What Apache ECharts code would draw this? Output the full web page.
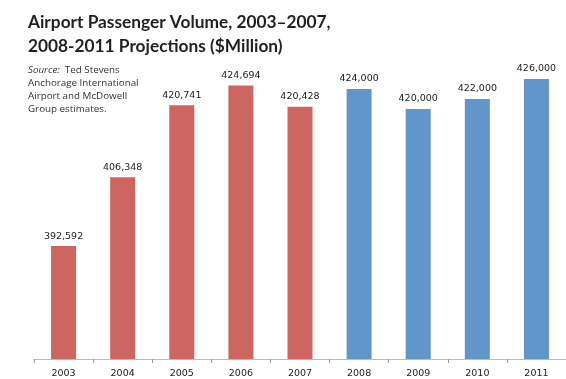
<!DOCTYPE html>
<html>
<head>
<meta charset="utf-8">
<script src="https://cdn.jsdelivr.net/npm/echarts@6/dist/echarts.min.js"></script>
<style>
  html, body { margin: 0; padding: 0; background: #fff; }
  #chart { width: 566px; height: 379px; }
</style>
</head>
<body>
<div id="chart"></div>
<script>
// data
var years = ['2003', '2004', '2005', '2006', '2007', '2008', '2009', '2010', '2011'];
var passengers = [392592, 406348, 420741, 424694, 420428, 424000, 420000, 422000, 426000];
var isProjection = [false, false, false, false, false, true, true, true, true];

var actualColor = '#CD6661';
var projColor = '#6096C9';

var barData = passengers.map(function (v, i) {
  return {
    value: v,
    itemStyle: { color: isProjection[i] ? projColor : actualColor }
  };
});

var myChart = echarts.init(document.getElementById('chart'));
var option = {
  animation: false,
  title: [{
    text: 'Airport Passenger Volume, 2003\u20132007,\n2008-2011 Projections ($Million)',
    left: 28,
    top: 10,
    padding: 0,
    textStyle: {
      fontFamily: 'Lato',
      fontWeight: 'bold',
      fontSize: 17.3,
      lineHeight: 24,
      color: '#231f20'
    }
  }, {
    text: '{i|Source:}  Ted Stevens\nAnchorage International\nAirport and McDowell\nGroup estimates.',
    left: 28,
    top: 64,
    padding: 0,
    textStyle: {
      fontFamily: 'Open Sans',
      fontWeight: 'normal',
      fontSize: 9.8,
      lineHeight: 12.8,
      color: '#333',
      rich: {
        i: { fontStyle: 'italic', fontFamily: 'Open Sans', fontSize: 9.8, color: '#333' }
      }
    }
  }],
  grid: {
    left: 34,
    top: 59,
    width: 540,
    height: 302
  },
  xAxis: {
    type: 'category',
    data: years,
    axisLine: { lineStyle: { color: '#bbb', width: 1 } },
    axisTick: { show: true, length: 4, lineStyle: { color: '#999' } },
    axisLabel: { color: '#222', fontFamily: 'DejaVu Sans', fontSize: 9.5, margin: 10 }
  },
  yAxis: {
    type: 'value',
    min: 370000,
    max: 430000,
    show: false,
    splitLine: { show: false }
  },
  series: [{
    type: 'bar',
    data: barData,
    barWidth: 25,
    label: {
      show: true,
      position: 'top',
      distance: 5,
      color: '#222',
      fontFamily: 'DejaVu Sans',
      fontSize: 9.5,
      formatter: function (p) {
        return p.value.toLocaleString('en-US');
      }
    }
  }]
};
myChart.setOption(option);
</script>
</body>
</html>
